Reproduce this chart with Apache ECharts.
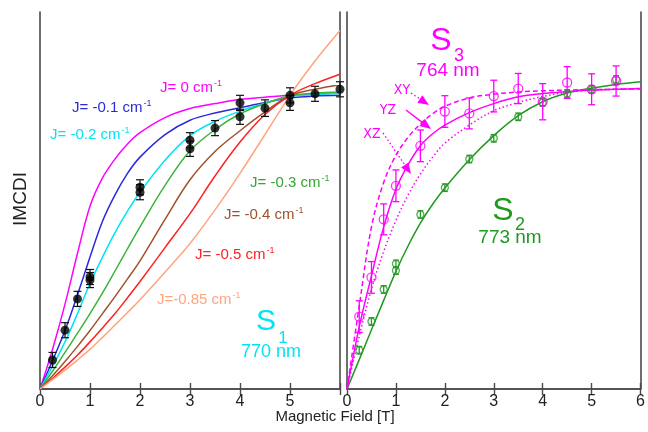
<!DOCTYPE html>
<html><head><meta charset="utf-8">
<script src="https://cdn.jsdelivr.net/npm/echarts@6/dist/echarts.min.js"></script>
<style>html,body{margin:0;padding:0;background:#fff}#c{width:648px;height:432px}</style>
</head><body><div id="c"></div>
<script>
// ---------- DATA ----------
const curveX = [0,0.25,0.5,0.75,1,1.25,1.5,1.75,2,2.5,3,3.5,4,4.5,5,5.5,6];
// Left panel (S1, 770 nm) simulated curves for J values
const curveJ0    = [0,0.105,0.225,0.36,0.485,0.56,0.61,0.65,0.68,0.72,0.744,0.757,0.768,0.774,0.779,0.782,0.785];
const curveJm01  = [0,0.075,0.155,0.25,0.35,0.445,0.515,0.572,0.615,0.675,0.713,0.732,0.746,0.76,0.772,0.777,0.779];
const curveJm02  = [0,0.06,0.125,0.2,0.28,0.35,0.415,0.472,0.522,0.607,0.672,0.71,0.737,0.758,0.776,0.781,0.784];
const curveJm03  = [0,0.047,0.097,0.148,0.2,0.255,0.313,0.372,0.43,0.54,0.632,0.688,0.73,0.757,0.778,0.785,0.788];
const curveJm04  = [0,0.035,0.073,0.113,0.155,0.2,0.245,0.292,0.34,0.45,0.555,0.63,0.685,0.735,0.778,0.795,0.807];
const curveJm05  = [0,0.028,0.058,0.09,0.125,0.162,0.2,0.242,0.285,0.375,0.465,0.565,0.655,0.728,0.779,0.81,0.835];
const curveJm085 = [0,0.025,0.05,0.077,0.105,0.137,0.17,0.203,0.237,0.31,0.386,0.475,0.572,0.675,0.779,0.87,0.951];
const jLabels = ['J= 0 cm','J= -0.1 cm','J= -0.2 cm','J= -0.3 cm','J= -0.4 cm','J= -0.5 cm','J=-0.85 cm'];

// Left panel measured points (S1)
const s1X   = [0.25,0.5,0.75,1,1,2,2,3,3,3.5,4,4,4.5,5,5,5.5,6];
const s1Y   = [0.077,0.156,0.239,0.297,0.289,0.535,0.522,0.66,0.637,0.692,0.759,0.722,0.745,0.779,0.759,0.783,0.795];
const s1Err = [0.02,0.02,0.02,0.02,0.02,0.02,0.02,0.02,0.02,0.02,0.02,0.02,0.022,0.02,0.02,0.02,0.02];

// Right panel: S3 (764 nm) points
const s3X   = [0.25,0.5,0.75,1,1.5,2,2.5,3,3.5,4,4.5,5,5.5];
const s3Y   = [0.192,0.296,0.45,0.539,0.645,0.736,0.731,0.777,0.797,0.762,0.813,0.795,0.817];
const s3Err = [0.042,0.042,0.041,0.042,0.042,0.042,0.041,0.042,0.04,0.048,0.042,0.041,0.04];
// S3 fits for XY / YZ / XZ
const fitXY = [0,0.22,0.43,0.548,0.62,0.668,0.703,0.73,0.75,0.772,0.782,0.788,0.791,0.793,0.794,0.795,0.796];
const fitYZ = [0,0.165,0.3,0.43,0.53,0.595,0.645,0.677,0.70,0.733,0.757,0.775,0.784,0.789,0.793,0.795,0.797];
const fitXZ = [0,0.14,0.265,0.365,0.447,0.515,0.57,0.615,0.652,0.70,0.738,0.76,0.776,0.787,0.793,0.795,0.797];

// Right panel: S2 (773 nm) points and fit
const s2X   = [0.25,0.5,0.75,1,1,1.5,2,2.5,3,3.5,4,4.5,5,5.5];
const s2Y   = [0.103,0.179,0.264,0.332,0.314,0.463,0.534,0.61,0.665,0.722,0.76,0.784,0.795,0.821];
const s2Err = [0.01,0.01,0.01,0.01,0.01,0.01,0.01,0.01,0.01,0.01,0.01,0.01,0.01,0.01];
const fitS2 = [0,0.078,0.157,0.235,0.312,0.38,0.44,0.49,0.533,0.608,0.672,0.725,0.762,0.785,0.798,0.808,0.815];

const xTicks = [0,1,2,3,4,5,6];

// ---------- CHART ----------
const chart = echarts.init(document.getElementById('c'));
const FONT = "'Liberation Sans', Arial, sans-serif";
const AXC = '#4a4a4a';
const C = {mag:'#ff00ff', blue:'#2a2ad8', cyan:'#00e4f4', green:'#3cb43c', brown:'#a0522d', red:'#ff2020', orange:'#ffa57e', g2:'#1f9a1f', g2pt:'#2a9a2a'};

const zip = (xs, ys) => xs.map((x,i)=>[x, ys[i]]);
const zip3 = (xs, ys, es) => xs.map((x,i)=>[x, ys[i], es[i]]);

function xAx(gi, pos, showLabel, hide6){
  return {type:'value', gridIndex:gi, position:pos, min:xTicks[0], max:xTicks[xTicks.length-1], interval:1,
    axisLine:{show:true, lineStyle:{color:AXC, width:1.6}},
    axisTick:{show:true, inside:true, length:6, lineStyle:{color:AXC, width:1.4}},
    axisLabel:{show:showLabel, fontSize:16, color:'#222', fontFamily:FONT, margin:5,
      formatter: v => (hide6 && v===6) ? '' : String(v)},
    splitLine:{show:false}};
}
function yAx(gi, pos){
  return {type:'value', gridIndex:gi, position:pos, min:0, max:1,
    axisLine:{show:true, onZero:false, lineStyle:{color:AXC, width:1.6}},
    axisTick:{show:false}, axisLabel:{show:false}, splitLine:{show:false}};
}
function curve(name, ys, color, xi, yi, type){
  return {type:'line', name, xAxisIndex:xi, yAxisIndex:yi, data:zip(curveX, ys),
    smooth:0.35, showSymbol:false, silent:true,
    lineStyle:{color, width:1.5, type:type||'solid'}, z:3};
}
function errBars(data, color, capHalf, xi, yi, lw){
  return {type:'custom', xAxisIndex:xi, yAxisIndex:yi, data, encode:{x:0,y:1}, z:4, silent:true,
    renderItem:(params, api)=>{
      const x = api.value(0), y = api.value(1), e = api.value(2);
      const t = api.coord([x, y+e]), b = api.coord([x, y-e]);
      const st = {stroke:color, lineWidth:lw||1.2};
      return {type:'group', children:[
        {type:'line', shape:{x1:t[0],y1:t[1],x2:b[0],y2:b[1]}, style:st},
        {type:'line', shape:{x1:t[0]-capHalf,y1:t[1],x2:t[0]+capHalf,y2:t[1]}, style:st},
        {type:'line', shape:{x1:b[0]-capHalf,y1:b[1],x2:b[0]+capHalf,y2:b[1]}, style:st}
      ]};
    }};
}

function txt(x, y, text, color, size, opts){
  opts = opts || {};
  return {type:'text', x, y, rotation:opts.rotation||0, z:10, silent:true,
    style:{text, fill:color, font: (opts.weight||'normal')+' '+size+'px '+(opts.family||FONT),
      align:opts.align||'center', verticalAlign:opts.va||'middle'}};
}
function jText(x, y, main, color){
  return {type:'text', x, y, z:10, silent:true,
    style:{text:'{a|'+main+'}{s|-1}', align:'left', verticalAlign:'middle',
      rich:{a:{fontSize:15, fontFamily:FONT, fill:color, color:color, lineHeight:18},
            s:{fontSize:9, fontFamily:FONT, fill:color, color:color, lineHeight:18, verticalAlign:'top', padding:[0,0,0,1]}}}};
}
function arrow(x1,y1,x2,y2,dashed,color){
  const dx=x2-x1, dy=y2-y1, L=Math.hypot(dx,dy), ux=dx/L, uy=dy/L;
  const hl=11, hw=4.5;
  const bx=x2-ux*hl, by=y2-uy*hl;
  return [
    {type:'line', z:10, silent:true, shape:{x1,y1,x2:bx,y2:by}, style:{stroke:color, lineWidth:1.4, lineDash: dashed?[1.5,2.5]:null}},
    {type:'polygon', z:10, silent:true, shape:{points:[[x2,y2],[bx-uy*hw,by+ux*hw],[bx+uy*hw,by-ux*hw]]}, style:{fill:color}}
  ];
}

const series = [
  curve(jLabels[0], curveJ0, C.mag, 0, 0),
  curve(jLabels[1], curveJm01, C.blue, 0, 0),
  curve(jLabels[2], curveJm02, C.cyan, 0, 0),
  curve(jLabels[3], curveJm03, C.green, 0, 0),
  curve(jLabels[4], curveJm04, C.brown, 0, 0),
  curve(jLabels[5], curveJm05, C.red, 0, 0),
  curve(jLabels[6], curveJm085, C.orange, 0, 0),
  errBars(zip3(s1X, s1Y, s1Err), '#111', 4, 0, 0, 1.2),
  {type:'scatter', xAxisIndex:0, yAxisIndex:0, data:zip(s1X, s1Y), symbol:'circle', symbolSize:9,
    itemStyle:{color:'#000'}, clip:false, z:5, silent:true},
  // right panel
  curve('S2 fit', fitS2, C.g2, 2, 2),
  curve('XY', fitXY, C.mag, 2, 2, [5,3]),
  curve('YZ', fitYZ, C.mag, 2, 2),
  curve('XZ', fitXZ, C.mag, 2, 2, [1.5,2.5]),
  errBars(zip3(s2X, s2Y, s2Err), C.g2pt, 3, 2, 2, 1.3),
  {type:'scatter', xAxisIndex:2, yAxisIndex:2, data:zip(s2X, s2Y), symbol:'circle', symbolSize:7,
    itemStyle:{color:'transparent', borderColor:C.g2pt, borderWidth:1.3}, clip:false, z:5, silent:true},
  errBars(zip3(s3X, s3Y, s3Err), C.mag, 3.5, 2, 2, 1.3),
  {type:'scatter', xAxisIndex:2, yAxisIndex:2, data:zip(s3X, s3Y), symbol:'circle', symbolSize:9,
    itemStyle:{color:'transparent', borderColor:C.mag, borderWidth:1.3}, clip:false, z:5, silent:true}
];

const graphics = [
  txt(21, 199, 'IMCDI', '#222', 19, {rotation:Math.PI/2}),
  txt(335, 417, 'Magnetic Field [T]', '#222', 15),
  jText(160, 88, jLabels[0], C.mag),
  jText(72, 108, jLabels[1], C.blue),
  jText(50, 135, jLabels[2], C.cyan),
  jText(250, 183, jLabels[3], '#35a535'),
  jText(224, 215, jLabels[4], C.brown),
  jText(195, 255, jLabels[5], C.red),
  jText(157, 300, jLabels[6], C.orange),
  txt(266, 322, 'S', C.cyan, 30),
  txt(283, 338, '1', C.cyan, 17),
  txt(271, 352, '770 nm', C.cyan, 18),
  txt(441, 41, 'S', C.mag, 32),
  txt(459, 56, '3', C.mag, 18),
  txt(448, 71, '764 nm', C.mag, 19),
  txt(503, 211, 'S', C.g2, 32),
  txt(520, 225, '2', C.g2, 18),
  txt(510, 238, '773 nm', C.g2, 19),
  txt(402, 90, 'XY', C.mag, 14, {family:"'Liberation Sans Narrow','DejaVu Sans Condensed',sans-serif"}),
  txt(388, 110, 'YZ', C.mag, 14, {family:"'Liberation Sans Narrow','DejaVu Sans Condensed',sans-serif"}),
  txt(372, 134, 'XZ', C.mag, 14, {family:"'Liberation Sans Narrow','DejaVu Sans Condensed',sans-serif"}),
  ...arrow(411, 93, 429, 105, true, C.mag),
  ...arrow(406, 110, 431, 129, false, C.mag),
  ...arrow(383, 133, 411, 174, true, C.mag)
];

chart.setOption({
  animation:false,
  backgroundColor:'#fff',
  grid:[
    {left:40, top:12, width:300, height:377, containLabel:false},
    {left:347, top:12, width:296, height:377, containLabel:false}
  ],
  xAxis:[xAx(0,'bottom',true,true), xAx(0,'top',false,false), xAx(1,'bottom',true,false), xAx(1,'top',false,false)],
  yAxis:[yAx(0,'left'), yAx(0,'right'), yAx(1,'left'), yAx(1,'right')],
  series,
  graphic:graphics
});
</script></body></html>
